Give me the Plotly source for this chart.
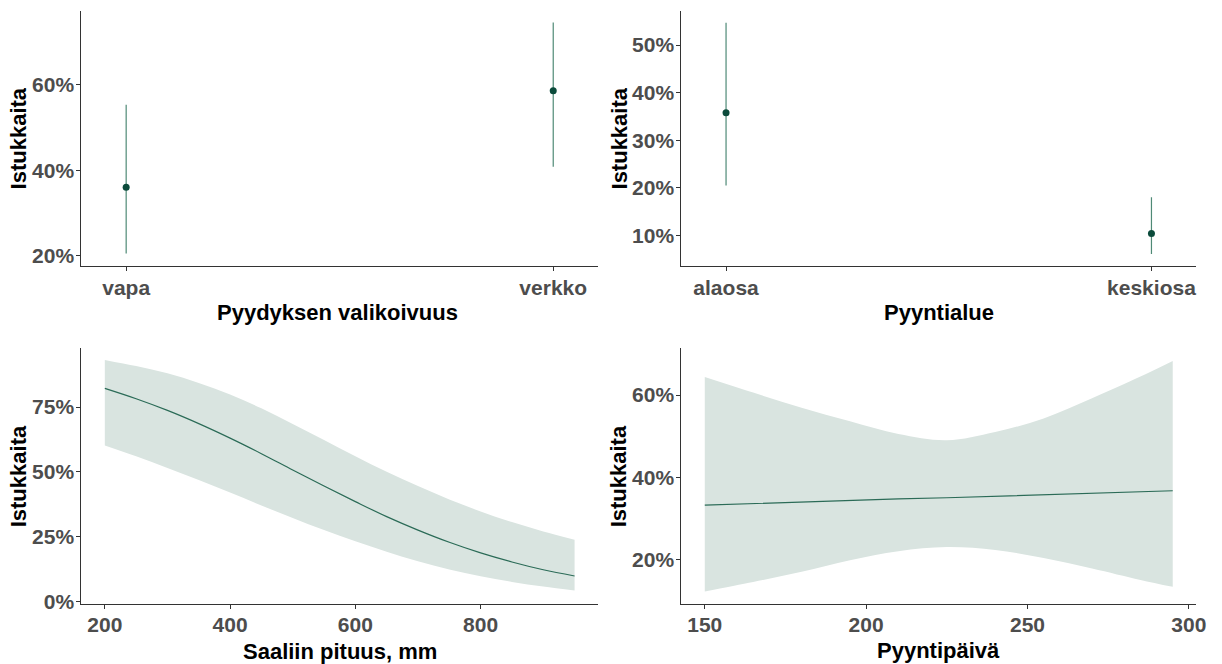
import plotly.graph_objects as go

# ---------------- data ----------------
gear_cats = ["vapa", "verkko"]
gear_est = [0.360, 0.586]
gear_lo = [0.205, 0.408]
gear_hi = [0.553, 0.746]

area_cats = ["alaosa", "keskiosa"]
area_est = [0.358, 0.104]
area_lo = [0.205, 0.061]
area_hi = [0.547, 0.180]

length_mm = [200, 250, 300, 350, 400, 450, 500, 550, 600, 650, 700, 750, 800, 850, 900, 950]
length_est = [0.822, 0.782, 0.737, 0.686, 0.630, 0.570, 0.507, 0.445, 0.385, 0.327, 0.275, 0.228, 0.187, 0.152, 0.122, 0.098]
length_lo = [0.602, 0.560, 0.515, 0.468, 0.420, 0.370, 0.322, 0.275, 0.232, 0.192, 0.155, 0.123, 0.097, 0.075, 0.057, 0.042]
length_hi = [0.932, 0.908, 0.880, 0.843, 0.798, 0.745, 0.685, 0.623, 0.560, 0.500, 0.445, 0.393, 0.347, 0.306, 0.270, 0.238]

day = [150, 165, 180, 195, 210, 225, 240, 255, 270, 285, 295]
day_est = [0.332, 0.336, 0.339, 0.343, 0.347, 0.350, 0.354, 0.358, 0.361, 0.365, 0.367]
day_lo = [0.122, 0.145, 0.170, 0.198, 0.220, 0.230, 0.223, 0.203, 0.178, 0.150, 0.133]
day_hi = [0.644, 0.606, 0.569, 0.536, 0.505, 0.490, 0.510, 0.543, 0.592, 0.645, 0.683]

y_title = "Istukkaita"
x_titles = ["Pyydyksen valikoivuus", "Pyyntialue", "Saaliin pituus, mm", "Pyyntipäivä"]

# ---------------- style ----------------
W, H = 1222, 664
PT_COL = "#0b4b3b"
BAR_COL = "#4f8a76"
LINE_COL = "#2b6b57"
BAND_COL = "#d9e4e0"
TICK_FONT = dict(family="Liberation Sans, Arial, sans-serif", size=21, color="#4d4d4d", weight="bold")
TITLE_FONT = dict(family="Liberation Sans, Arial, sans-serif", size=22, color="#000000", weight="bold")


def px_x(p):
    return p / W


def px_y(p):
    return 1 - p / H


fig = go.Figure()

# Panel 1: gear
fig.add_trace(go.Scatter(
    x=list(range(len(gear_cats))), y=gear_est, mode="markers",
    marker=dict(color=PT_COL, size=7),
    error_y=dict(type="data", symmetric=False,
                 array=[h - e for h, e in zip(gear_hi, gear_est)],
                 arrayminus=[e - l for e, l in zip(gear_est, gear_lo)],
                 width=0, thickness=1.2, color=BAR_COL),
    xaxis="x", yaxis="y", showlegend=False))

# Panel 2: area
fig.add_trace(go.Scatter(
    x=list(range(len(area_cats))), y=area_est, mode="markers",
    marker=dict(color=PT_COL, size=7),
    error_y=dict(type="data", symmetric=False,
                 array=[h - e for h, e in zip(area_hi, area_est)],
                 arrayminus=[e - l for e, l in zip(area_est, area_lo)],
                 width=0, thickness=1.2, color=BAR_COL),
    xaxis="x2", yaxis="y2", showlegend=False))


def band(xs, lo, hi, xa, ya):
    fig.add_trace(go.Scatter(
        x=xs, y=lo, mode="lines", line=dict(width=0, shape="spline", color=BAND_COL),
        xaxis=xa, yaxis=ya, showlegend=False, hoverinfo="skip"))
    fig.add_trace(go.Scatter(
        x=xs, y=hi, mode="lines", line=dict(width=0, shape="spline", color=BAND_COL),
        fill="tonexty", fillcolor=BAND_COL,
        xaxis=xa, yaxis=ya, showlegend=False, hoverinfo="skip"))


# Panel 3: length
band(length_mm, length_lo, length_hi, "x3", "y3")
fig.add_trace(go.Scatter(
    x=length_mm, y=length_est, mode="lines", line=dict(color=LINE_COL, width=1.2, shape="spline"),
    xaxis="x3", yaxis="y3", showlegend=False))

# Panel 4: day
band(day, day_lo, day_hi, "x4", "y4")
fig.add_trace(go.Scatter(
    x=day, y=day_est, mode="lines", line=dict(color=LINE_COL, width=1.2),
    xaxis="x4", yaxis="y4", showlegend=False))

# domains (pixel based)
left_dom = [px_x(82), px_x(603)]
right_dom = [px_x(687), px_x(1206)]
top_dom = [px_y(270), px_y(11)]
bot_dom = [px_y(612), px_y(353)]

axis_common = dict(showgrid=False, zeroline=False, showline=True, linecolor="#333333", linewidth=1.1,
                   ticks="outside", ticklen=4, tickwidth=1, tickcolor="#333333", tickfont=TICK_FONT)
xa_common = dict(axis_common, ticklabelstandoff=-2)
ya_common = dict(axis_common, ticklabelstandoff=-2)

fig.update_layout(
    width=W, height=H,
    margin=dict(l=0, r=0, t=0, b=0),
    paper_bgcolor="white", plot_bgcolor="white",
    xaxis=dict(domain=left_dom, anchor="y", range=[-0.105, 1.105],
               tickvals=list(range(len(gear_cats))), ticktext=gear_cats, **xa_common),
    yaxis=dict(domain=top_dom, anchor="x", range=[0.175, 0.773],
               tickvals=[0.2, 0.4, 0.6], tickformat=".0%", **ya_common),
    xaxis2=dict(domain=right_dom, anchor="y2", range=[-0.105, 1.105],
                tickvals=list(range(len(area_cats))), ticktext=area_cats, **xa_common),
    yaxis2=dict(domain=top_dom, anchor="x2", range=[0.035, 0.572],
                tickvals=[0.1, 0.2, 0.3, 0.4, 0.5], tickformat=".0%", **ya_common),
    xaxis3=dict(domain=left_dom, anchor="y3", range=[162.5, 987.5],
                tickvals=[200, 400, 600, 800], **xa_common),
    yaxis3=dict(domain=bot_dom, anchor="x3", range=[-0.009, 0.977],
                tickvals=[0, 0.25, 0.5, 0.75], tickformat=".0%", **ya_common),
    xaxis4=dict(domain=right_dom, anchor="y4", range=[142.75, 302.25],
                tickvals=[150, 200, 250, 300], **xa_common),
    yaxis4=dict(domain=bot_dom, anchor="x4", range=[0.092, 0.714],
                tickvals=[0.2, 0.4, 0.6], tickformat=".0%", **ya_common),
)

annotations = []
# x titles
for txt, cx, cy in [(x_titles[0], 340, 317), (x_titles[1], 946.5, 317),
                    (x_titles[2], 343, 660), (x_titles[3], 946.5, 659)]:
    annotations.append(dict(text=txt, x=px_x(cx), y=px_y(cy), xref="paper", yref="paper",
                            xanchor="center", yanchor="middle", showarrow=False, font=TITLE_FONT))
# y titles
for cx, cy in [(19, 140.5), (625, 140.5), (19.5, 482.5), (624.5, 482.5)]:
    annotations.append(dict(text=y_title, x=px_x(cx), y=px_y(cy), xref="paper", yref="paper",
                            xanchor="center", yanchor="middle", textangle=-90, showarrow=False,
                            font=TITLE_FONT))
fig.update_layout(annotations=annotations)

fig.write_html("out.html")
